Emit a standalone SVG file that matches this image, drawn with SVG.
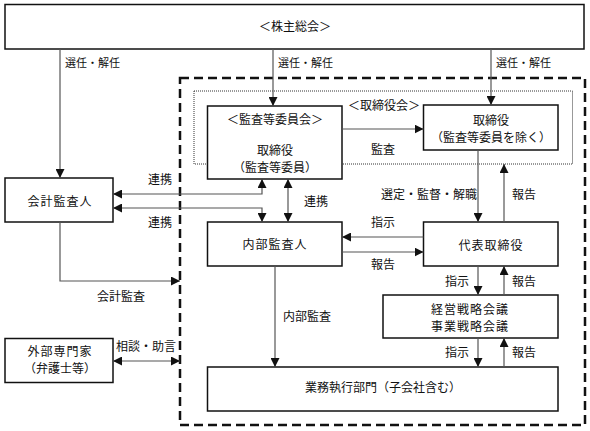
<svg xmlns="http://www.w3.org/2000/svg" width="590" height="431" viewBox="0 0 590 431">
<style>
text{font-family:"Noto Sans CJK JP","Noto Sans CJK SC",sans-serif;font-size:12px;fill:#111;text-anchor:middle}
.sm{font-size:11px}
.st{text-anchor:start}
.box{fill:#fff;stroke:#111;stroke-width:1.5}
.cn{fill:none;stroke:#555;stroke-width:1.2}
</style>
<defs>
<marker id="ah" viewBox="0 0 10 10" refX="10" refY="5" markerWidth="9" markerHeight="9" markerUnits="userSpaceOnUse" orient="auto-start-reverse">
<path d="M0,0 L10,5 L0,10 z" fill="#111"/>
</marker>
</defs>
<rect x="180" y="78" width="405" height="347" fill="none" stroke="#111" stroke-width="2.5" stroke-dasharray="9,5"/>
<rect x="194" y="91" width="378.5" height="73" fill="none" stroke="#333" stroke-width="1" stroke-dasharray="1,1"/>
<g id="shareholders"><rect class="box" x="5" y="4.5" width="579" height="44.5"/><text x="295" y="31">＜株主総会＞</text></g>
<g id="audit-committee"><rect class="box" x="207.5" y="106" width="134.5" height="73"/><text x="275" y="124">＜監査等委員会＞</text><text x="275" y="155">取締役</text><text x="275" y="172">（監査等委員）</text></g>
<g id="directors"><rect class="box" x="423.5" y="105" width="134.5" height="45"/><text x="491" y="125">取締役</text><text x="491" y="142" font-size="11.5">（監査等委員を除く）</text></g>
<g id="accounting-auditor"><rect class="box" x="5" y="178" width="108" height="44"/><text x="60" y="206" letter-spacing="1">会計監査人</text></g>
<g id="internal-auditor"><rect class="box" x="207.5" y="222" width="134.5" height="44"/><text x="275" y="249" letter-spacing="1">内部監査人</text></g>
<g id="representative"><rect class="box" x="423.5" y="222" width="134.5" height="44"/><text x="491" y="250" letter-spacing="1">代表取締役</text></g>
<g id="strategy"><rect class="box" x="383" y="295" width="175" height="43"/><text x="470" y="314" letter-spacing="1">経営戦略会議</text><text x="470" y="331" letter-spacing="1">事業戦略会議</text></g>
<g id="business"><rect class="box" x="207.5" y="367" width="350.5" height="44"/><text x="383" y="392">業務執行部門（子会社含む）</text></g>
<g id="external"><rect class="box" x="5" y="338.5" width="108" height="44"/><text x="60" y="356" letter-spacing="1">外部専門家</text><text x="60" y="373">（弁護士等）</text></g>
<g id="connectors">
<path class="cn" d="M60,49 V178" marker-end="url(#ah)"/>
<path class="cn" d="M273,49 V106" marker-end="url(#ah)"/>
<path class="cn" d="M491,49 V105" marker-end="url(#ah)"/>
<path class="cn" d="M342,129 H423.5" marker-end="url(#ah)"/>
<path class="cn" d="M262,179 V194 H113" marker-start="url(#ah)" marker-end="url(#ah)"/>
<path class="cn" d="M113,208 H262 V222" marker-start="url(#ah)" marker-end="url(#ah)"/>
<path class="cn" d="M288,179 V222" marker-start="url(#ah)" marker-end="url(#ah)"/>
<path class="cn" d="M478,150 V222" marker-end="url(#ah)"/>
<path class="cn" d="M504,222 V164" marker-end="url(#ah)"/>
<path class="cn" d="M423.5,237 H342" marker-end="url(#ah)"/>
<path class="cn" d="M342,252 H423.5" marker-end="url(#ah)"/>
<path class="cn" d="M478,266 V295" marker-end="url(#ah)"/>
<path class="cn" d="M504,295 V266" marker-end="url(#ah)"/>
<path class="cn" d="M478,338 V367" marker-end="url(#ah)"/>
<path class="cn" d="M504,367 V338" marker-end="url(#ah)"/>
<path class="cn" d="M275,266 V367" marker-end="url(#ah)"/>
<path class="cn" d="M60,222 V281 H180" marker-end="url(#ah)"/>
<path class="cn" d="M113,361 H180" marker-start="url(#ah)" marker-end="url(#ah)"/>
<text class="sm st" x="65" y="67">選任・解任</text>
<text class="sm st" x="278" y="67">選任・解任</text>
<text class="sm st" x="496" y="67">選任・解任</text>
<text x="384" y="110">＜取締役会＞</text>
<text x="383" y="154">監査</text>
<text x="160" y="184">連携</text>
<text x="160" y="227">連携</text>
<text x="316" y="206">連携</text>
<text x="429" y="199">選定・監督・解職</text>
<text x="524" y="199">報告</text>
<text x="383" y="227">指示</text>
<text x="383" y="269">報告</text>
<text x="457" y="286">指示</text>
<text x="524" y="286">報告</text>
<text x="457" y="357">指示</text>
<text x="524" y="357">報告</text>
<text class="st" x="283" y="321">内部監査</text>
<text x="121" y="301">会計監査</text>
<text x="146" y="351">相談・助言</text>
</g>
</svg>
